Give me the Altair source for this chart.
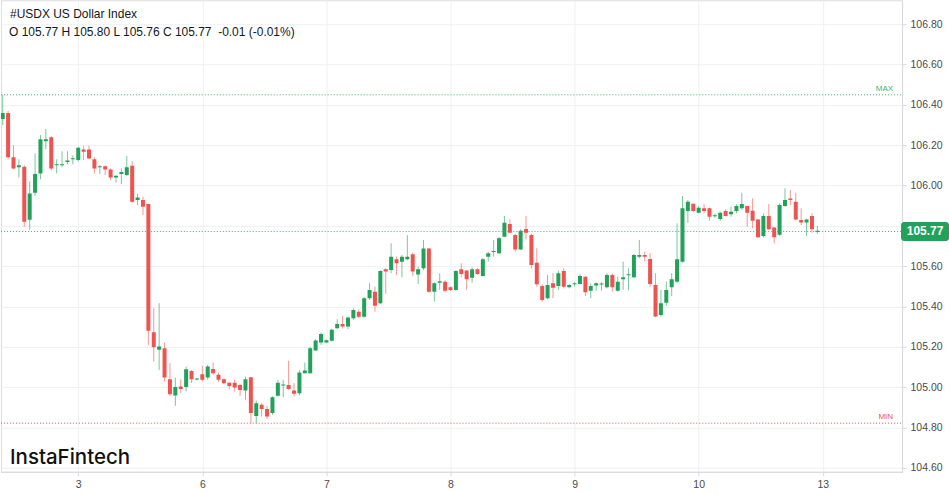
import altair as alt
import pandas as pd

# ---- hourly candles ----
opens = [106.33, 106.36, 106.14, 106.09, 106.093, 105.83, 105.964, 106.06, 106.22, 106.24,
         106.10, 106.10, 106.117, 106.13, 106.126, 106.179, 106.179, 106.13, 106.09, 106.096,
         106.08, 106.04, 106.057, 106.052, 106.098, 105.928, 105.928, 105.908,
         105.272, 105.185, 105.193, 105.039, 104.958, 105.003, 105.0, 105.08, 105.038, 105.064,
         105.047, 105.09, 105.061, 105.039, 105.022, 105.022, 105.011, 104.983, 105.049, 104.857,
         104.912, 104.891, 104.871, 104.957, 105.008, 105.011, 104.983, 104.97,
         105.069, 105.069, 105.181, 105.221, 105.221, 105.23, 105.292, 105.313, 105.30, 105.342,
         105.374, 105.349, 105.441, 105.473, 105.416, 105.584, 105.581, 105.634, 105.622, 105.634,
         105.659, 105.559, 105.589, 105.688, 105.473, 105.518, 105.523, 105.495,
         105.482, 105.584, 105.578, 105.543, 105.584, 105.551, 105.647, 105.670, 105.664, 105.746,
         105.809, 105.754, 105.683, 105.784, 105.754, 105.617, 105.502, 105.441, 105.515, 105.502,
         105.576, 105.495, 105.510, 105.512, 105.548,
         105.478, 105.504, 105.509, 105.495, 105.556, 105.478, 105.535, 105.555, 105.545, 105.647,
         105.655, 105.635, 105.507, 105.358, 105.419, 105.495, 105.523,
         105.622, 105.873, 105.909, 105.865, 105.887, 105.887, 105.848, 105.834, 105.873, 105.857,
         105.873, 105.887, 105.898, 105.875, 105.832, 105.749, 105.849, 105.792, 105.756, 105.898,
         105.936, 105.919, 105.829, 105.816, 105.849, 105.77]
highs = [106.45, 106.37, 106.20, 106.13, 106.10, 106.02, 106.16, 106.25, 106.28, 106.245,
         106.13, 106.17, 106.17, 106.15, 106.192, 106.197, 106.197, 106.14, 106.10, 106.10,
         106.085, 106.05, 106.085, 106.146, 106.121, 105.96, 105.944, 105.91,
         105.391, 105.416, 105.221, 105.119, 105.047, 105.039, 105.102, 105.085, 105.045, 105.105,
         105.11, 105.122, 105.072, 105.044, 105.025, 105.036, 105.015, 105.052, 105.05, 104.933,
         104.92, 104.907, 104.955, 105.036, 105.036, 105.131, 105.02, 105.085,
         105.122, 105.2, 105.238, 105.27, 105.236, 105.29, 105.337, 105.353, 105.35, 105.391,
         105.385, 105.446, 105.515, 105.498, 105.581, 105.59, 105.713, 105.647, 105.655, 105.754,
         105.667, 105.597, 105.73, 105.69, 105.52, 105.565, 105.53, 105.50,
         105.58, 105.614, 105.58, 105.594, 105.59, 105.64, 105.672, 105.73, 105.745, 105.849,
         105.832, 105.76, 105.783, 105.849, 105.76, 105.689, 105.51, 105.556, 105.565, 105.578,
         105.59, 105.51, 105.52, 105.56, 105.55,
         105.515, 105.52, 105.52, 105.565, 105.565, 105.548, 105.622, 105.589, 105.66, 105.73,
         105.672, 105.664, 105.565, 105.482, 105.523, 105.565, 105.812,
         105.948, 105.928, 105.91, 105.898, 105.908, 105.89, 105.86, 105.87, 105.882, 105.895,
         105.908, 105.964, 105.90, 105.936, 105.835, 105.862, 105.908, 105.795, 105.911, 105.986,
         105.977, 105.964, 105.887, 105.835, 105.862, 105.80]
lows = [106.30, 106.13, 106.08, 106.04, 105.795, 105.78, 105.95, 106.03, 106.18, 106.075,
        106.06, 106.09, 106.105, 106.105, 106.12, 106.126, 106.131, 106.06, 106.057, 106.052,
        106.027, 106.014, 106.007, 106.047, 105.914, 105.903, 105.853, 105.209,
        105.127, 105.085, 105.027, 104.957, 104.907, 104.97, 104.978, 105.02, 105.033, 105.027,
        105.036, 105.061, 105.027, 105.015, 104.99, 104.978, 104.957, 104.937, 104.821, 104.821,
        104.854, 104.841, 104.863, 104.953, 104.95, 104.986, 104.953, 104.96,
        105.067, 105.067, 105.18, 105.21, 105.218, 105.225, 105.29, 105.29, 105.287, 105.333,
        105.342, 105.344, 105.432, 105.374, 105.412, 105.462, 105.565, 105.556, 105.545, 105.63,
        105.551, 105.512, 105.581, 105.468, 105.424, 105.482, 105.47, 105.478,
        105.478, 105.545, 105.482, 105.518, 105.556, 105.548, 105.622, 105.647, 105.66, 105.744,
        105.763, 105.672, 105.68, 105.733, 105.589, 105.498, 105.424, 105.436, 105.441, 105.482,
        105.49, 105.49, 105.50, 105.51, 105.452,
        105.441, 105.478, 105.478, 105.49, 105.473, 105.473, 105.482, 105.48, 105.54, 105.639,
        105.622, 105.498, 105.347, 105.35, 105.403, 105.452, 105.518,
        105.617, 105.815, 105.87, 105.862, 105.862, 105.825, 105.838, 105.825, 105.846, 105.845,
        105.862, 105.88, 105.795, 105.788, 105.74, 105.743, 105.779, 105.713, 105.75, 105.895,
        105.903, 105.829, 105.804, 105.749, 105.766, 105.76]
closes = [106.36, 106.14, 106.085, 106.10, 105.82, 105.96, 106.057, 106.23, 106.23, 106.085,
          106.102, 106.106, 106.124, 106.135, 106.187, 106.167, 106.134, 106.085, 106.096, 106.08,
          106.04, 106.048, 106.067, 106.09, 105.919, 105.94, 105.895, 105.279,
          105.198, 105.201, 105.047, 104.965, 105.0, 104.99, 105.089, 105.039, 105.04, 105.036,
          105.102, 105.069, 105.036, 105.019, 105.006, 104.998, 104.986, 105.039, 104.871, 104.92,
          104.891, 104.854, 104.95, 105.022, 105.012, 104.991, 104.967, 105.072,
          105.082, 105.193, 105.231, 105.264, 105.232, 105.284, 105.313, 105.30, 105.345, 105.383,
          105.349, 105.441, 105.482, 105.403, 105.576, 105.573, 105.647, 105.614, 105.647, 105.647,
          105.573, 105.584, 105.688, 105.473, 105.515, 105.525, 105.478, 105.482,
          105.576, 105.561, 105.535, 105.584, 105.561, 105.634, 105.664, 105.673, 105.738, 105.815,
          105.766, 105.683, 105.776, 105.766, 105.606, 105.51, 105.432, 105.506, 105.493, 105.565,
          105.498, 105.506, 105.513, 105.551, 105.471,
          105.502, 105.515, 105.512, 105.556, 105.495, 105.523, 105.545, 105.558, 105.655, 105.655,
          105.647, 105.512, 105.35, 105.416, 105.482, 105.535, 105.634,
          105.887, 105.919, 105.873, 105.89, 105.873, 105.845, 105.851, 105.865, 105.849, 105.87,
          105.898, 105.908, 105.865, 105.825, 105.743, 105.849, 105.783, 105.743, 105.903, 105.928,
          105.928, 105.832, 105.816, 105.832, 105.783, 105.772]

# ---- axis ticks / labels ----
day_ticks = [14, 37, 60, 83, 106, 129, 152]
day_labels = ["3", "6", "7", "8", "9", "10", "13"]
price_ticks = [104.6, 104.8, 105.0, 105.2, 105.4, 105.6, 105.8, 106.0, 106.2, 106.4, 106.6, 106.8]

title_text = "#USDX US Dollar Index"
brand_text = "InstaFintech"

GREEN = "#22a15a"
LINE_GREEN = "#35b574"
RED = "#ef5350"
GRID = "#eef0f3"
AXIS = "#d6d9de"
TXT = "#4a4a4a"

df = pd.DataFrame({"i": list(range(len(opens))), "open": opens, "high": highs,
                   "low": lows, "close": closes})

last_o, last_h, last_l, last_c = opens[-1], highs[-1], lows[-1], closes[-1]
chg = last_c - closes[-2]
ohlc_text = (f"O {last_o:.2f} H {last_h:.2f} L {last_l:.2f} C {last_c:.2f}\u00a0 "
             f"{chg:.2f} ({chg / closes[-2] * 100:.2f}%)")

x_scale = alt.Scale(domain=[-0.315, 166.7], nice=False, zero=False)
y_scale = alt.Scale(domain=[104.58, 106.919], nice=False, zero=False)

label_expr = " : ".join(f"datum.value == {t} ? '{l}'" for t, l in zip(day_ticks, day_labels)) + " : ''"
# the 105.80 label sits under the last-price tag, as in the reference
y_label_expr = f"abs(datum.value - {last_c}) < 0.05 ? '' : format(datum.value, '.2f')"

x_axis = alt.Axis(values=day_ticks, labelExpr=label_expr, grid=True, gridColor=GRID,
                  domainColor=AXIS, tickColor=AXIS, tickSize=4, labelColor=TXT,
                  labelFontSize=10.5, labelFont="Liberation Sans", labelPadding=4,
                  title=None, labelFlush=False)
y_axis = alt.Axis(orient="right", values=price_ticks, labelExpr=y_label_expr, grid=True,
                  gridColor=GRID, domainColor=AXIS, tickColor=AXIS, tickSize=4, labelColor=TXT,
                  labelFontSize=10.5, labelFont="Liberation Sans", labelPadding=4,
                  title=None, labelFlush=False)

color = alt.when(alt.datum.close >= alt.datum.open).then(alt.value(GREEN)).otherwise(alt.value(RED))

base = alt.Chart(df).transform_calculate(
    lo="min(datum.open, datum.close)",
    hi="max(max(datum.open, datum.close), min(datum.open, datum.close) + 0.005)",
    x0="datum.i - 0.37",
    x1="datum.i + 0.37",
)

wicks = base.mark_rule(strokeWidth=1, opacity=0.6, clip=True).encode(
    x=alt.X("i:Q", scale=x_scale, axis=x_axis),
    y=alt.Y("low:Q", scale=y_scale, axis=y_axis),
    y2="high:Q",
    color=color,
)
bodies = base.mark_rect(clip=True).encode(
    x=alt.X("x0:Q", scale=x_scale, title=None),
    x2="x1:Q",
    y=alt.Y("lo:Q", scale=y_scale, title=None),
    y2="hi:Q",
    color=color,
)

level_df = pd.DataFrame({
    "v": [max(highs), min(lows), last_c],
    "t": ["MAX", "MIN", f"{last_c:.2f}"],
    "c": [LINE_GREEN, RED, LINE_GREEN],
})

levels = alt.Chart(level_df).mark_rule(strokeDash=[1, 2], strokeWidth=1).encode(
    y=alt.Y("v:Q", scale=y_scale, title=None), x=alt.value(0), x2=alt.value(901),
    color=alt.Color("c:N", scale=None))
level_lbl = alt.Chart(level_df).transform_filter(
    "datum.t == 'MAX' || datum.t == 'MIN'"
).mark_text(fontSize=8, align="right", baseline="bottom", dy=-2, font="Liberation Sans").encode(
    y=alt.Y("v:Q", scale=y_scale, title=None), x=alt.value(893), text="t:N",
    color=alt.Color("c:N", scale=None))

last_df = pd.DataFrame({"v": [last_c], "t": [f"{last_c:.2f}"]})
tag = alt.Chart(last_df).transform_calculate(
    a="datum.v - 0.047", b="datum.v + 0.047"
).mark_rect(color=GREEN, cornerRadius=3).encode(
    y=alt.Y("a:Q", scale=y_scale, title=None), y2="b:Q", x=alt.value(901), x2=alt.value(949))
tag_txt = alt.Chart(last_df).mark_text(color="white", fontSize=12, fontWeight="bold",
                                       font="Liberation Sans", align="center", baseline="middle").encode(
    y=alt.Y("v:Q", scale=y_scale, title=None), x=alt.value(925), text="t:N")

hdr1 = alt.Chart(pd.DataFrame({"t": [title_text]})).mark_text(
    align="left", baseline="alphabetic", fontSize=12, font="Liberation Sans", color="#131722"
).encode(x=alt.value(9), y=alt.value(18), text="t:N")
hdr2 = alt.Chart(pd.DataFrame({"t": [ohlc_text]})).mark_text(
    align="left", baseline="alphabetic", fontSize=12, font="Liberation Sans", color="#131722"
).encode(x=alt.value(8), y=alt.value(36), text="t:N")
brand = alt.Chart(pd.DataFrame({"t": [brand_text]})).mark_text(
    align="left", baseline="alphabetic", fontSize=20.5, font="Inter", fontWeight=500,
    color="#111111"
).encode(x=alt.value(9), y=alt.value(464), text="t:N")

chart = alt.layer(
    wicks, bodies, levels, level_lbl, tag, tag_txt, hdr1, hdr2, brand
).properties(
    width=902, height=472, padding=0, autosize=alt.AutoSizeParams(type="pad")
).configure_view(stroke=None).configure(background="white")

chart.save("out.html", embed_options={"renderer": "svg", "actions": False})
